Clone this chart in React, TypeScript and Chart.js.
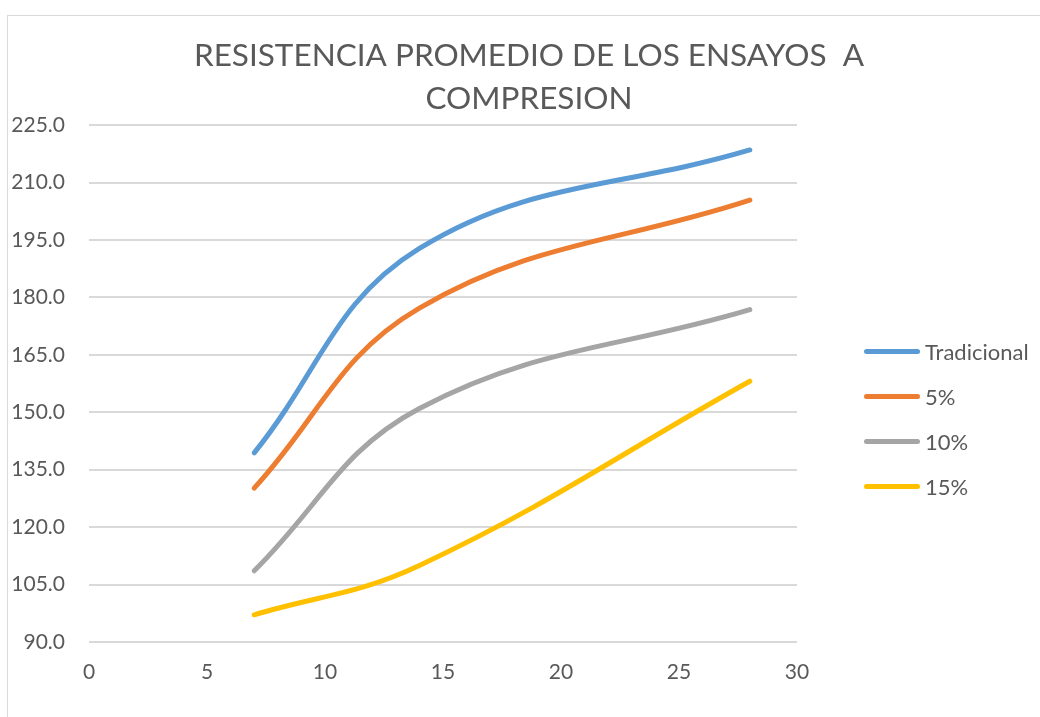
import React, { useEffect, useRef } from "react";
import { Chart, registerables, layouts } from "chart.js";

Chart.register(...registerables);

const TITLE_LINES = ["RESISTENCIA PROMEDIO DE LOS ENSAYOS  A", "COMPRESION"];
const DAYS = [7, 14, 28];
const SERIES_NAMES = ["Tradicional", "5%", "10%", "15%"];
const TRADICIONAL = [139.4, 192.8, 218.5];
const PCT5 = [130.2, 177.2, 205.4];
const PCT10 = [108.6, 151.0, 176.8];
const PCT15 = [97.1, 110.0, 158.1];
const COLORS = ["#5B9BD5", "#ED7D31", "#A5A5A5", "#FFC000"];
const X_MIN = 0, X_MAX = 30, X_STEP = 5;
const Y_MIN = 90, Y_MAX = 225, Y_STEP = 15;

const TEXT = "#595959";
const FONT = "Lato";
const CANVAS_W = 1058;
const CANVAS_H = 717;

const sideLegend = {
  id: "sideLegend",
  beforeInit(chart: any) {
    const box: any = {
      position: "right",
      weight: 1000,
      fullSize: false,
      options: {},
      top: 0, left: 0, right: 0, bottom: 0, width: 0, height: 0,
      isHorizontal() { return false; },
      update(maxWidth: number, maxHeight: number) {
        box.width = 261;
        box.height = maxHeight;
      },
      draw() {
        const ctx = chart.ctx;
        const ds = chart.data.datasets;
        const gap = 45;
        const cy = (box.top + box.bottom) / 2 + 35.5;
        const y0 = cy - (gap * (ds.length - 1)) / 2;
        ctx.save();
        ctx.font = `22px ${FONT}`;
        ctx.textBaseline = "middle";
        ctx.textAlign = "left";
        ds.forEach((d: any, i: number) => {
          const y = y0 + i * gap;
          ctx.beginPath();
          ctx.lineCap = "round";
          ctx.lineWidth = 5;
          ctx.strokeStyle = d.borderColor;
          ctx.moveTo(box.left + 69.5, y);
          ctx.lineTo(box.left + 120.5, y);
          ctx.stroke();
          ctx.fillStyle = TEXT;
          ctx.fillText(d.label, box.left + 128, y + 1);
        });
        ctx.restore();
      },
    };
    layouts.addBox(chart, box);
  },
};

export default function App() {
  const ref = useRef<HTMLCanvasElement>(null);
  useEffect(() => {
    document.body.style.margin = "0";
    const values = [TRADICIONAL, PCT5, PCT10, PCT15];
    const chart = new Chart(ref.current!, {
      type: "line",
      data: {
        datasets: SERIES_NAMES.map((name, i) => ({
          label: name,
          data: DAYS.map((d, j) => ({ x: d, y: values[i][j] })),
          borderColor: COLORS[i],
          backgroundColor: COLORS[i],
          borderWidth: 5,
          borderCapStyle: "round",
          borderJoinStyle: "round",
          pointRadius: 0,
          tension: 0.4,
          fill: false,
        })),
      },
      options: {
        responsive: false,
        animation: false,
        layout: { padding: 0 },
        plugins: {
          legend: { display: false },
          tooltip: { enabled: false },
          title: {
            display: true,
            text: TITLE_LINES,
            color: TEXT,
            font: { family: FONT, size: 31.5, weight: "normal", lineHeight: 1.39 },
            padding: { top: 33.5, bottom: 4 },
          },
        },
        scales: {
          x: {
            type: "linear",
            min: X_MIN,
            max: X_MAX,
            grid: { display: false, drawTicks: false },
            border: { display: false },
            ticks: { stepSize: X_STEP, color: TEXT, font: { family: FONT, size: 21 }, padding: 17.4 },
            afterFit: (s: any) => { s.height = 75; },
          },
          y: {
            type: "linear",
            min: Y_MIN,
            max: Y_MAX,
            grid: { color: "#D9D9D9", lineWidth: 2, drawTicks: false },
            border: { display: false },
            ticks: {
              stepSize: Y_STEP,
              color: TEXT,
              font: { family: FONT, size: 21 },
              padding: 24,
              callback: (v: any) => Number(v).toFixed(1),
            },
            afterFit: (s: any) => { s.width = 89; },
          },
        },
      },
      plugins: [sideLegend],
    } as any);
    return () => chart.destroy();
  }, []);
  return (
    <div style={{ position: "relative", width: 1040, height: 717, overflow: "hidden", background: "#fff" }}>
      <div style={{ position: "absolute", left: 7, top: 15, width: 1200, height: 900, border: "1px solid #D9D9D9" }} />
      <canvas ref={ref} width={CANVAS_W} height={CANVAS_H} style={{ position: "absolute", left: 0, top: 0, display: "block" }} />
    </div>
  );
}
